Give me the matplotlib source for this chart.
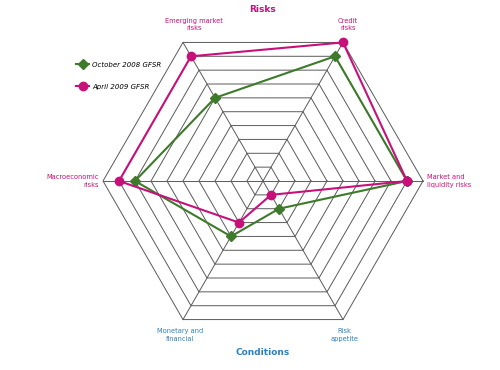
import numpy as np
import matplotlib.pyplot as plt

axes_labels = ['Market and\nliquidity risks', 'Credit\nrisks', 'Emerging market\nrisks',
               'Macroeconomic\nrisks', 'Monetary and\nfinancial', 'Risk\nappetite']
oct_2008 = [9, 9, 6, 8, 4, 2]
apr_2009 = [9, 10, 9, 9, 3, 1]
series_names = ['October 2008 GFSR', 'April 2009 GFSR']
n_rings = 10

pink = '#c8107a'
green = '#3d7a2a'
blue = '#2f7fc0'
grid = '#5a5a5a'

angles = np.deg2rad(np.arange(0, 360, 60))


def xy(vals):
    vals = np.asarray(vals, dtype=float)
    x = vals * np.cos(angles)
    y = vals * np.sin(angles)
    return np.append(x, x[0]), np.append(y, y[0])


fig = plt.figure(figsize=(5, 3.7), dpi=100)
ax = fig.add_axes([0, 0, 1, 1])
ax.set_xlim(-263 / 16, (500 - 263) / 16)
ax.set_ylim(-(370 - 181) / 16, 181 / 16)
ax.axis('off')

# hexagon rings and spokes
for r in range(1, n_rings + 1):
    gx, gy = xy([r] * 6)
    ax.plot(gx, gy, color=grid, lw=0.7, zorder=1)
for a in angles:
    ax.plot([0, n_rings * np.cos(a)], [0, n_rings * np.sin(a)], color=grid, lw=0.7, zorder=1)

x1, y1 = xy(oct_2008)
x2, y2 = xy(apr_2009)
ax.plot(x1, y1, color=green, lw=1.5, marker='D', ms=5, zorder=2, label=series_names[0])
ax.plot(x2, y2, color=pink, lw=1.5, marker='o', ms=6, zorder=3, label=series_names[1])

# axis labels
lab_pos = [(10.25, 0, 'left', 'center', pink),
           (5.3, 9.35, 'center', 'bottom', pink),
           (-4.3, 9.35, 'center', 'bottom', pink),
           (-10.25, 0, 'right', 'center', pink),
           (-5.2, -9.2, 'center', 'top', blue),
           (5.1, -9.2, 'center', 'top', blue)]
for lab, (lx, ly, ha, va, c) in zip(axes_labels, lab_pos):
    ax.text(lx, ly, lab, ha=ha, va=va, color=c, fontsize=4.8, linespacing=1.3)

ax.text(0, 181 / 16 - 0.3, 'Risks', ha='center', va='top', color=pink,
        fontsize=6.5, fontweight='bold')
ax.text(0, -10.7, 'Conditions', ha='center', va='center', color=blue,
        fontsize=6.5, fontweight='bold')

ax.legend(loc='upper left', bbox_to_anchor=(0.14, 0.85), frameon=False,
          prop={'size': 5, 'style': 'italic'}, handlelength=1.8,
          labelspacing=2.3, handletextpad=0.5)

fig.savefig('out.png', dpi=100)
